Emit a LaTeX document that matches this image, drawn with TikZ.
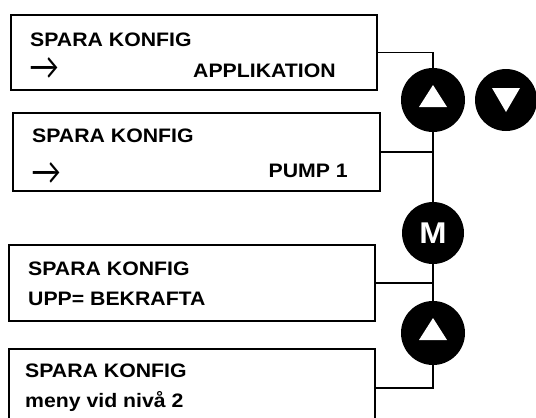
\documentclass[tikz,border=0pt]{standalone}
\usepackage{fontspec}
\setmainfont{Liberation Sans}[FakeStretch=1.09]
\newfontfamily\arrowfont{Lato}
\begin{document}
\begin{tikzpicture}[x=1pt,y=-1pt,
  box/.style={draw, line width=1.8pt, anchor=north west, inner sep=0pt},
  key/.style={circle, fill=black, inner sep=0pt},
  conn/.style={line width=1.3pt},
  txt/.style={anchor=base west, inner sep=0pt, font=\fontsize{19.5}{23}\selectfont\bfseries},
  arr/.style={anchor=base west, inner sep=0pt, font=\fontsize{30}{30}\arrowfont}]
\clip (0,0) rectangle (536,418);
% boxes
\node[box, minimum width=366pt, minimum height=75pt] (b1) at (10,14) {};
\node[box, minimum width=367pt, minimum height=78pt] (b2) at (12,112) {};
\node[box, minimum width=366pt, minimum height=76pt] (b3) at (8,244) {};
\node[box, minimum width=366pt, minimum height=78pt] (b4) at (8,348) {};
% texts
\node[txt] (t1a) at (30,46) {SPARA KONFIG};
\node[arr] (t1b) at (29,79) {\scalebox{1}[1.2]{→}};
\node[txt] (t1c) at (193,77) {APPLIKATION};
\node[txt] (t2a) at (32,142) {SPARA KONFIG};
\node[arr] (t2b) at (31,184) {\scalebox{1}[1.2]{→}};
\node[txt, anchor=base east] (t2c) at (348,177) {PUMP 1};
\node[txt] (t3a) at (28,275) {SPARA KONFIG};
\node[txt] (t3b) at (28,305) {UPP= BEKRAFTA};
\node[txt] (t4a) at (25,377) {SPARA KONFIG};
\node[txt] (t4b) at (25,407) {meny vid nivå 2};
% keys
\node[key, minimum size=64pt] (up1) at (433,100) {};
\node[key, minimum size=62pt] (dn) at (506,100) {};
\node[key, minimum size=62pt, text=white, font=\fontsize{30}{30}\selectfont\bfseries] (m) at (433,233) {M};
\node[key, minimum size=64pt] (up2) at (433,333) {};
\fill[white] ([shift={(-14,7)}]up1.center) -- ([shift={(14,7)}]up1.center) -- ([shift={(0,-15)}]up1.center) -- cycle;
\fill[white] ([shift={(-14,7)}]up2.center) -- ([shift={(14,7)}]up2.center) -- ([shift={(0,-15)}]up2.center) -- cycle;
\fill[white] ([shift={(-14,-12)}]dn.center) -- ([shift={(14,-12)}]dn.center) -- ([shift={(0,12)}]dn.center) -- cycle;
% connectors
\draw[conn] (b1.east) -| (up1.north);
\draw[conn] (up1.south) -- (m.north);
\draw[conn] (b2.east) -- (b2.east -| up1.south);
\draw[conn] (m.south) -- (up2.north);
\draw[conn] (b3.east) -- (b3.east -| m.south);
\draw[conn] (b4.east) -| (up2.south);
\end{tikzpicture}
\end{document}
